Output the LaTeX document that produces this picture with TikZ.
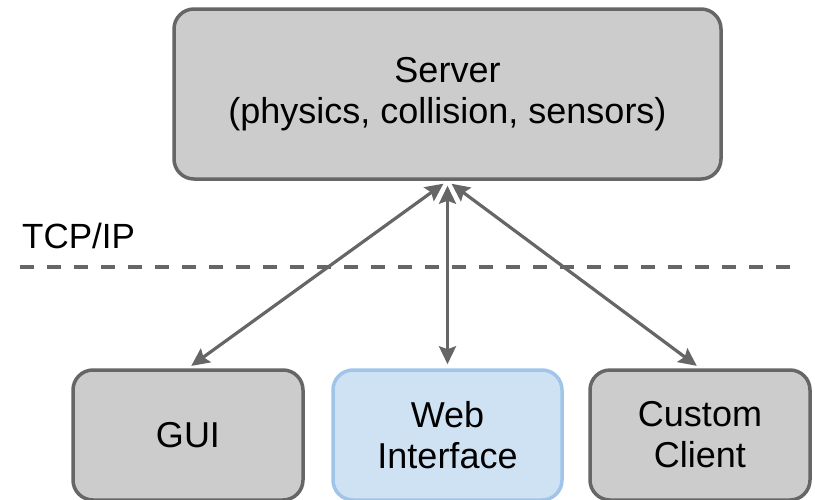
\documentclass[tikz,border=0pt]{standalone}
\usepackage{fontspec}
\setmainfont{Liberation Sans}
\usetikzlibrary{arrows.meta}
\definecolor{edgegray}{HTML}{666666}
\definecolor{boxgray}{HTML}{CCCCCC}
\definecolor{webfill}{HTML}{CFE2F3}
\definecolor{webedge}{HTML}{9FC5E8}
\begin{document}
\begin{tikzpicture}[x=1pt,y=-1pt,
  box/.style={draw=edgegray, fill=boxgray, line width=3.5pt, rounded corners=20pt,
    align=center, font=\fontsize{36}{41}\selectfont, inner sep=0pt},
  webbox/.style={box, draw=webedge, fill=webfill},
  label/.style={font=\fontsize{35}{40}\selectfont, inner sep=0pt},
  arr/.style={draw=edgegray, line width=3.2pt,
    {Stealth[length=18pt,width=17pt,inset=3pt]}-{Stealth[length=18pt,width=17pt,inset=3pt]},
    shorten <=5pt, shorten >=4pt},
  sep/.style={draw=edgegray, line width=4pt, dash pattern=on 14pt off 13pt}]
\useasboundingbox (0,0) rectangle (815,499);
\clip (0,0) rectangle (815,499);
\node[box, minimum width=547pt, minimum height=170pt] (srv) at (447.5,94)
  {Server\\(physics, collision, sensors)};
\node[box, minimum width=230pt, minimum height=130pt] (gui) at (188,435) {GUI};
\node[webbox, minimum width=229pt, minimum height=130pt] (web) at (447.5,435) {Web\\Interface};
\node[box, minimum width=220pt, minimum height=130pt] (cli) at (700,435) {Custom\\Client};
\node[label, anchor=west] (tcp) at (22,236) {TCP/IP};
\coordinate (sepL) at (20,267);
\coordinate (sepR) at (800,267);
\draw[sep] (sepL) -- (sepR);
\draw[arr] (srv.south) -- (gui.north);
\draw[arr] (srv.south) -- (web.north);
\draw[arr] (srv.south) -- (cli.north);
\end{tikzpicture}
\end{document}
